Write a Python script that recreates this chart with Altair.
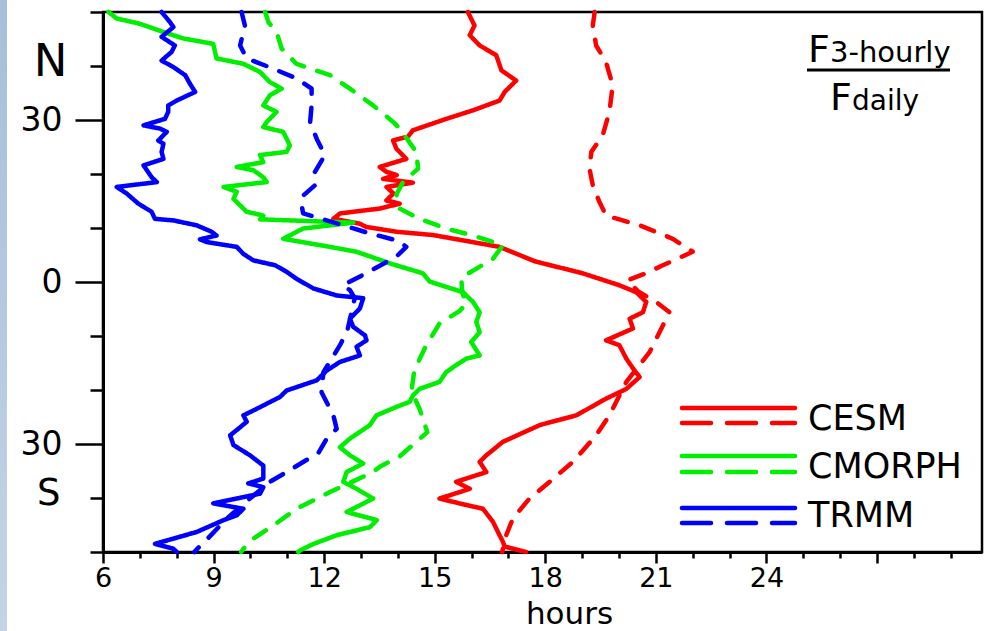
import altair as alt
import pandas as pd

FONT = "DejaVu Sans"

products = ["CESM", "CMORPH", "TRMM"]
colors = ["#ff0000", "#00ee00", "#0000ff"]

# ---- CESM (red) ----
cesm_solid_lat = [50, 47.5, 45.7, 43.8, 42.0, 39.2, 37.3, 35.2, 33.6, 31.8,
                  30.2, 28.1, 26.9, 26.2, 24.7, 22.8, 21.3, 20.4, 19.8, 19.1,
                  18.4, 17.6, 16.4, 15.1, 14.5, 13.6, 12.7, 11.7, 10.8, 10.2,
                  9.3, 8.7, 6.5, 3.8, 1.6, -0.6, -1.9, -3.7, -5.6, -6.8,
                  -8.6, -10.8, -11.7, -14.2, -16.0, -17.6, -19.8, -21.6, -24.7, -26.5,
                  -29.6, -32.1, -33.3, -35.2, -37.0, -38.3, -40.1, -41.0, -42.0, -44.4,
                  -46.9, -48.1, -49.0, -50]
cesm_solid_hr = [15.90, 16.08, 15.95, 16.22, 16.67, 16.81, 17.21, 16.90, 16.76, 16.04,
                 15.31, 14.41, 14.27, 13.87, 13.96, 14.23, 13.51, 13.69, 13.97, 13.60,
                 14.41, 13.69, 13.88, 13.69, 14.05, 13.51, 12.43, 12.25, 12.97, 13.14,
                 13.97, 14.95, 16.76, 17.73, 19.02, 20.01, 20.47, 20.74, 20.65, 20.29,
                 20.38, 19.65, 20.01, 20.20, 20.38, 20.56, 20.20, 19.65, 18.84, 17.85,
                 16.85, 16.40, 16.22, 16.40, 15.58, 15.95, 15.13, 15.67, 16.31, 16.58,
                 16.76, 16.85, 16.90, 17.48]

cesm_dash_lat = [50, 47.5, 43.8, 40.7, 36.4, 31.5, 27.2, 24.1, 21.0, 17.9,
                 14.8, 12.3, 10.5, 8.0, 5.6, 3.1, 1.6, 0.3, -1.8, -3.7,
                 -5.6, -9.3, -13.0, -18.5, -24.7, -28.4, -33.3, -37.0, -40.1, -43.8,
                 -46.9, -49.4, -50]
cesm_dash_hr = [19.34, 19.29, 19.38, 19.65, 19.83, 19.74, 19.56, 19.25, 19.20, 19.29,
                19.47, 19.65, 20.56, 21.46, 22.00, 21.19, 20.73, 20.23, 20.53, 21.01,
                21.37, 21.10, 20.83, 20.20, 19.74, 19.38, 18.75, 18.12, 17.57, 17.12,
                16.94, 16.85, 16.83]

# ---- CMORPH (green) ----
cmorph_solid_lat = [50, 48.8, 47.8, 46.3, 45.1, 44.1, 41.4, 40.4, 38.9, 37.0,
                    35.8, 34.6, 32.7, 31.5, 29.6, 28.7, 27.8, 25.3, 24.1, 23.5,
                    22.2, 21.3, 20.7, 19.4, 18.5, 17.6, 16.7, 15.4, 14.2, 13.0,
                    12.3, 11.6, 11.0, 9.9, 8.0, 6.5, 5.6, 3.3, 1.6, 0.1,
                    -0.9, -1.9, -3.7, -5.6, -7.4, -9.3, -11.1, -13.6, -14.2, -15.4,
                    -16.7, -18.5, -19.8, -21.0, -22.2, -23.1, -24.7, -26.5, -29.0, -30.6,
                    -32.1, -33.6, -35.2, -37.0, -38.3, -40.1, -42.6, -44.1, -45.4, -46.9,
                    -48.5, -49.7, -50]
cmorph_solid_hr = [6.15, 6.37, 7.01, 7.64, 8.18, 8.99, 9.08, 9.81, 10.26, 10.53,
                   10.85, 10.53, 10.35, 10.71, 10.44, 10.35, 10.89, 11.07, 10.98, 10.26,
                   10.35, 9.63, 10.08, 10.35, 10.44, 9.27, 9.63, 9.54, 9.72, 9.90,
                   10.35, 10.26, 12.79, 11.43, 10.89, 12.16, 12.88, 13.85, 14.68, 14.86,
                   15.31, 15.77, 16.04, 16.22, 16.13, 16.22, 15.99, 16.22, 15.86, 15.58,
                   15.31, 15.13, 14.59, 14.41, 14.32, 13.97, 13.42, 13.24, 12.70, 12.43,
                   12.70, 13.06, 12.61, 12.52, 12.88, 13.33, 12.61, 13.43, 13.24, 12.34,
                   11.71, 11.35, 11.30]

cmorph_dash_lat = [50, 48.1, 46.3, 43.2, 40.4, 38.3, 35.8, 32.7, 29.6, 28.4,
                   24.1, 21.0, 18.5, 16.2, 13.6, 11.7, 9.9, 8.6, 6.8, 4.3,
                   0.8, -2.0, -4.0, -5.4, -7.7, -11.7, -16.3, -20.2, -23.5, -27.8,
                   -32.3, -34.2, -35.2, -38.9, -42.0, -45.1, -47.5, -49.4, -50]
cmorph_dash_hr = [10.40, 10.49, 10.71, 10.85, 11.25, 12.16, 12.70, 13.33, 13.88, 14.05,
                  14.50, 14.55, 14.14, 13.96, 14.05, 14.59, 15.31, 16.04, 16.85, 16.58,
                  15.72, 15.75, 15.86, 15.67, 15.13, 14.77, 14.45, 14.37, 14.59, 14.80,
                  14.05, 13.51, 13.33, 12.16, 11.25, 10.62, 10.08, 9.81, 9.75]

# ---- TRMM (blue) ----
trmm_solid_lat = [50, 48.1, 47.2, 45.4, 43.8, 42.6, 41.0, 39.8, 38.3, 36.7,
                  35.2, 33.6, 32.7, 31.5, 30.2, 29.0, 28.4, 27.8, 26.2, 25.6,
                  24.1, 22.8, 21.6, 20.7, 19.4, 18.5, 17.6, 16.4, 14.5, 13.0,
                  11.7, 11.4, 10.5, 9.3, 8.6, 7.9, 7.4, 6.5, 5.2, 4.0,
                  3.1, 1.9, 0.6, -1.2, -2.5, -3.0, -4.9, -6.8, -8.3, -9.9,
                  -10.8, -12.0, -13.6, -14.8, -16.4, -18.2, -20.1, -21.3, -23.8, -24.7,
                  -25.9, -28.4, -30.2, -32.1, -34.0, -36.4, -37.3, -38.0, -39.2, -41.0,
                  -42.0, -43.2, -44.1, -46.3, -48.5, -49.4, -50]
trmm_solid_hr = [7.59, 7.82, 7.91, 7.59, 7.95, 7.86, 7.59, 7.91, 8.23, 8.36,
                 8.50, 8.00, 7.77, 7.77, 7.68, 7.10, 7.55, 7.73, 7.50, 7.64,
                 7.59, 7.64, 7.10, 7.19, 7.32, 7.46, 6.37, 6.64, 6.96, 7.32,
                 7.41, 7.91, 8.54, 8.95, 9.08, 8.63, 8.81, 9.63, 9.81, 10.08,
                 10.67, 10.98, 11.25, 11.71, 12.34, 13.06, 12.97, 12.70, 12.79, 13.11,
                 13.15, 12.88, 12.97, 12.43, 12.07, 11.80, 10.98, 10.80, 10.08, 9.81,
                 9.90, 9.45, 9.54, 9.99, 10.35, 10.35, 9.94, 10.35, 10.26, 8.99,
                 9.81, 9.63, 9.27, 8.54, 7.41, 7.91, 8.00]

trmm_dash_lat = [50, 47.5, 43.8, 41.4, 39.5, 37.7, 35.8, 32.7, 29.6, 26.5,
                 23.5, 20.4, 17.9, 16.0, 14.2, 12.7, 10.5, 9.0, 7.6, 6.5,
                 4.7, 1.3, -0.6, -1.5, -3.0, -6.0, -9.0, -11.7, -16.7, -20.4,
                 -24.7, -27.2, -29.0, -31.6, -35.2, -37.0, -41.0, -44.0, -47.8, -49.6,
                 -50]
trmm_dash_hr = [9.76, 9.85, 9.72, 9.90, 10.62, 11.25, 11.66, 11.66, 11.62, 11.80,
                12.02, 11.75, 11.75, 11.43, 11.39, 11.43, 12.52, 13.24, 14.03, 14.23,
                13.96, 13.05, 12.51, 12.70, 12.83, 12.73, 12.63, 12.43, 11.98, 11.93,
                12.25, 12.34, 12.07, 11.85, 10.98, 10.53, 9.83, 9.33, 8.80, 8.53,
                8.48]

x_tick_values = list(range(6, 30))
y_tick_values = list(range(-50, 51, 10))

series = [
    ("CESM", "solid", cesm_solid_lat, cesm_solid_hr),
    ("CESM", "dashed", cesm_dash_lat, cesm_dash_hr),
    ("CMORPH", "solid", cmorph_solid_lat, cmorph_solid_hr),
    ("CMORPH", "dashed", cmorph_dash_lat, cmorph_dash_hr),
    ("TRMM", "solid", trmm_solid_lat, trmm_solid_hr),
    ("TRMM", "dashed", trmm_dash_lat, trmm_dash_hr),
]

rows = []
for prod, kind, lats, hrs in series:
    for i, (la, h) in enumerate(zip(lats, hrs)):
        rows.append({"hour": h, "lat": la, "product": prod, "kind": kind,
                     "series": prod + "-" + kind, "idx": i})
df = pd.DataFrame(rows)
dummy = pd.DataFrame({"d": [0]})

xaxis = alt.Axis(
    values=x_tick_values,
    labelExpr="(datum.value % 3 == 0 && datum.value <= 24) ? datum.label : ''",
    tickSize={"condition": {"test": "datum.value % 3 == 0", "value": 11}, "value": 6},
    labelFontSize=27, labelPadding=2, labelFlush=False,
    grid=False, title="hours", titleFontSize=31, titleFontWeight="normal",
    titleX=466, titleY=71, titleAlign="center", titleBaseline="alphabetic",
)
yaxis = alt.Axis(
    values=y_tick_values,
    labelExpr="datum.value == 40 ? 'N' : (datum.value == -40 ? 'S' : (abs(datum.value) % 30 == 0 ? format(abs(datum.value), 'd') : ''))",
    tickSize={"condition": {"test": "abs(datum.value) % 30 == 0", "value": 28}, "value": 13},
    labelFontSize={"condition": [{"test": "datum.value == 40", "value": 45},
                                 {"test": "datum.value == -40", "value": 37}], "value": 33},
    labelPadding={"condition": [{"test": "datum.value == 40", "value": 23},
                                {"test": "datum.value == -40", "value": 30}], "value": 13},
    labelOffset={"condition": {"test": "abs(datum.value) == 40", "value": -5}, "value": 0},
    labelFlush=False, grid=False, title=None,
)

lines = alt.Chart(df).mark_line(strokeWidth=4.5, strokeCap="round", strokeJoin="round").encode(
    x=alt.X("hour:Q", scale=alt.Scale(domain=[6, 29.85], nice=False, zero=False), axis=xaxis),
    y=alt.Y("lat:Q", scale=alt.Scale(domain=[-50, 50], nice=False), axis=yaxis),
    color=alt.Color("product:N", scale=alt.Scale(domain=products, range=colors), legend=None),
    strokeDash=alt.StrokeDash("kind:N", scale=alt.Scale(domain=["solid", "dashed"],
                                                        range=[[1, 0], [14, 14]]), legend=None),
    detail="series:N",
    order="idx:Q",
)

strip = alt.Chart(dummy).mark_rect(
    fill=alt.Gradient(gradient="linear",
                      stops=[alt.GradientStop(color="#a6bfda", offset=0),
                             alt.GradientStop(color="#c4d4e4", offset=1)],
                      x1=0, x2=0, y1=0, y2=1),
).encode(x=alt.value(-103), x2=alt.value(-96), y=alt.value(-12), y2=alt.value(619))

layers = [strip, lines]

# custom legend
legend_y = [(396, 411, 418), (444, 460, 466), (496, 511, 515)]
for (name, col), (ys, yd, yt) in zip(zip(products, colors), legend_y):
    layers.append(alt.Chart(dummy).mark_rule(color=col, strokeWidth=4.5, strokeCap="round").encode(
        x=alt.value(579), x2=alt.value(692), y=alt.value(ys)))
    layers.append(alt.Chart(dummy).mark_rule(color=col, strokeWidth=4.5, strokeCap="round",
                                             strokeDash=[29, 16]).encode(
        x=alt.value(579), x2=alt.value(692), y=alt.value(yd)))
    layers.append(alt.Chart(dummy).mark_text(text=name, align="left", baseline="alphabetic",
                                             fontSize=35, font=FONT, color="black").encode(
        x=alt.value(705), y=alt.value(yt)))

# ratio label
def txt(s, x, y, size):
    return alt.Chart(dummy).mark_text(text=s, align="left", baseline="alphabetic",
                                      fontSize=size, font=FONT, color="black").encode(
        x=alt.value(x), y=alt.value(y))

layers += [
    txt("F", 705, 50, 38),
    txt("3-hourly", 727, 50, 29),
    alt.Chart(dummy).mark_rule(color="black", strokeWidth=3).encode(
        x=alt.value(704), x2=alt.value(847), y=alt.value(58)),
    txt("F", 727, 98, 38),
    txt("daily", 749, 98, 28),
]

chart = alt.layer(*layers).properties(
    width=879, height=540,
    padding={"left": 103, "top": 12, "right": 2, "bottom": 79},
    autosize=alt.AutoSizeParams(type="none"),
    background="white",
).configure_axis(
    domainColor="black", domainWidth=3, tickColor="black", tickWidth=2.5,
    labelColor="black", labelFont=FONT, titleFont=FONT, titleColor="black",
).configure_view(stroke="black", strokeWidth=2.5)

chart.save("out.html", embed_options={"renderer": "svg", "actions": False})
